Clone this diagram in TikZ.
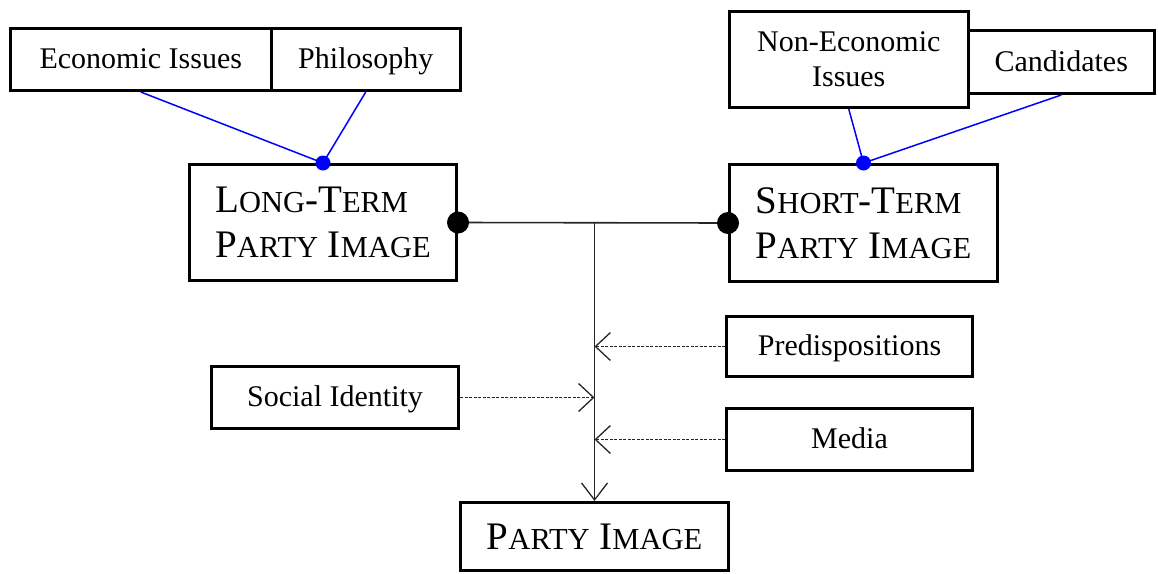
\documentclass[tikz,border=0pt]{standalone}
\usepackage{fontspec}
\setmainfont{Liberation Serif}
\usetikzlibrary{arrows.meta}
% smaller capitals for the hand-made small caps
\newcommand\lowcap[1]{{\fontsize{30.5}{45}\selectfont #1}}
\tikzset{
  box/.style={draw=black, line width=3pt, inner sep=0pt,
    font=\fontsize{30}{35}\selectfont, align=center},
  oneline/.style={box, text height=20pt, text depth=2pt},
  bigbox/.style={box, font=\fontsize{39}{45}\selectfont, align=left},
  feeder/.style={blue, line width=1.5pt},
  link/.style={draw=black!85, line width=1.6pt},
  influence/.style={link, dash pattern=on 3pt off 1.5pt,
    -{Straight Barb[length=15pt,width=28pt,line width=1.3pt]}},
  blob/.style={circle, fill=black, inner sep=0pt, minimum size=22pt},
  bluedot/.style={circle, fill=blue, inner sep=0pt, minimum size=15pt},
}
\begin{document}
\begin{tikzpicture}[x=1pt,y=-1pt]
\useasboundingbox (0,0) rectangle (1158,573);

% sources of the long-term image
\node[oneline, minimum width=260.5pt, minimum height=62pt] (econ) at (140.75,59.5) {Economic Issues};
\node[oneline, minimum width=189.5pt, minimum height=62pt] (phil) at (365.75,59.5) {Philosophy};

% sources of the short-term image
\node[box, minimum width=238.5pt, minimum height=96pt] (noneco) at (848.75,59.5) {Non-Economic\\Issues};
\node[oneline, minimum width=186.5pt, minimum height=63pt] (cand) at (1061.25,62) {Candidates};

% the two party images
\node[bigbox, minimum width=267pt, minimum height=116pt] (long) at (323,222.5)
  {L\lowcap{ONG}-T\lowcap{ERM}\\P\lowcap{ARTY} I\lowcap{MAGE}};
\node[bigbox, minimum width=268pt, minimum height=117pt] (short) at (863.5,223)
  {S\lowcap{HORT}-T\lowcap{ERM}\\P\lowcap{ARTY} I\lowcap{MAGE}};

% further influences
\node[oneline, minimum width=246pt, minimum height=60pt] (pred) at (849.5,346.5) {Predispositions};
\node[oneline, minimum width=247pt, minimum height=62pt] (social) at (335,397.5) {Social Identity};
\node[oneline, minimum width=246pt, minimum height=62pt] (media) at (849.5,439.5) {Media};

% result
\node[bigbox, minimum width=268pt, minimum height=68pt] (party) at (594.5,536.5)
  {P\lowcap{ARTY} I\lowcap{MAGE}};

% blue feeders
\draw[feeder] (econ.south) -- (long.north);
\draw[feeder] (phil.south) -- (long.north);
\draw[feeder] (noneco.south) -- (short.north);
\draw[feeder] (cand.south) -- (short.north);

% main connector and trunk
\draw[link] (long.east) -- (short.west);
\draw[link, -{Straight Barb[length=17pt,width=26pt,line width=1.3pt]}]
  (long.east -| party.north) -- (party.north);

% dashed influences on the trunk
\draw[influence] (pred.west) -- (pred.west -| party.north);
\draw[influence] (social.east) -- (social.east -| party.north);
\draw[influence] (media.west) -- (media.west -| party.north);

% joints
\node[bluedot] (jl) at (long.north) {};
\node[bluedot] (js) at (short.north) {};
\node[blob] (kl) at (long.east) {};
\node[blob] (ks) at (short.west) {};
\end{tikzpicture}
\end{document}
